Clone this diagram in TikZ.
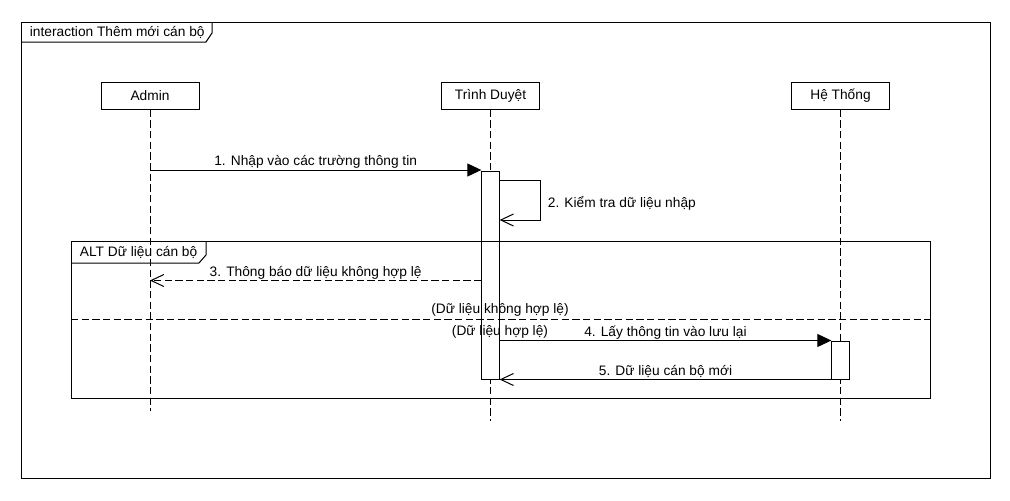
\documentclass[tikz,border=0pt]{standalone}
\usepackage{fontspec}
\setmainfont{Liberation Sans}
\usetikzlibrary{arrows.meta}

\begin{document}
\begin{tikzpicture}[x=0.75pt, y=-0.75pt, line width=0.75pt,
  every node/.style={font=\fontsize{10.3}{12}\selectfont},
  actor/.style={draw, minimum width=73.5pt, minimum height=20.25pt, inner sep=0pt},
  lifeline/.style={dash pattern=on 5.5pt off 2.5pt},
  actbar/.style={draw, fill=white, minimum width=13pt, inner sep=0pt},
  sync/.style={-{Triangle[length=10.5pt, width=9.75pt]}},
  reply/.style={-{Straight Barb[length=9.5pt, width=9pt]}},
  msglabel/.style={midway, anchor=base, yshift=3.2pt, inner sep=0pt},
  ]

\useasboundingbox (0,0) rectangle (1010,500);

% interaction frame with its name tab
\draw (21,22) rectangle (990,478);
\draw (21,42) -- (206,42) -- (212,33) -- (212,22);
\node[anchor=west] (title) at (25,32) {interaction Thêm mới cán bộ};

% participants and lifelines
\path
(150,95.5) node[actor] (admin) {Admin}
(490.5,95.5) node[actor] (browser) {Trình Duyệt}
(840.5,95.5) node[actor] (system) {Hệ Thống};
\coordinate (adminEnd) at (150,411);
\coordinate (browserEnd) at (490.5,421);
\coordinate (systemEnd) at (840.5,421);
\draw[lifeline] (admin) -- (adminEnd);
\draw[lifeline] (browser) -- (browserEnd);
\draw[lifeline] (system) -- (systemEnd);

% activation bars
\node[actbar, minimum height=156pt] (actB) at (490.5,275) {};
\node[actbar, minimum height=28.5pt] (actS) at (840.5,360) {};

% ALT fragment
\draw (71,241) rectangle (930,398);
\draw (71,263) -- (199,263) -- (206,255) -- (206,241);
\node[anchor=west] (alt) at (75,252) {ALT Dữ liệu cán bộ};
\draw[lifeline] (71,319) -- (930,319);
\node[anchor=base] (guardNo) at (500,313.5) {(Dữ liệu không hợp lệ)};
\node[anchor=base] (guardYes) at (500,335) {(Dữ liệu hợp lệ)};

% messages
\coordinate (m1) at (150,170);
\draw[sync] (m1) -- (m1 -| actB.west)
node[msglabel] {1. Nhập vào các trường thông tin};

\coordinate (s2a) at (540,180);
\coordinate (s2b) at (540,220);
\draw[reply] (actB.east |- s2a) -- (s2a) -- (s2b) -- (actB.east |- s2b);
\node[anchor=west] (check) at (543,203) {2. Kiểm tra dữ liệu nhập};

\coordinate (m3) at (150,280.5);
\draw[reply, lifeline] (actB.west |- m3) -- (m3)
node[msglabel] {3. Thông báo dữ liệu không hợp lệ};

\coordinate (m4) at (0,340.5);
\draw[sync] (actB.east |- m4) -- (actS.west |- m4)
node[msglabel] {4. Lấy thông tin vào lưu lại};

\coordinate (m5) at (0,379.5);
\draw[reply] (actS.west |- m5) -- (actB.east |- m5)
node[msglabel] {5. Dữ liệu cán bộ mới};

\end{tikzpicture}
\end{document}
